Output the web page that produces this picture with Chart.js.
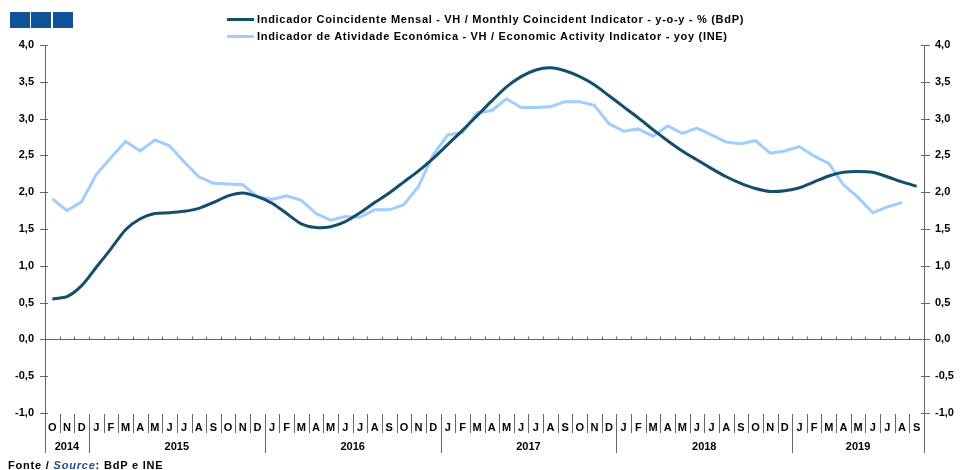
<!DOCTYPE html>
<html>
<head>
<meta charset="utf-8">
<script src="https://cdn.jsdelivr.net/npm/chart.js@4/dist/chart.umd.min.js"></script>
<style>
  body { margin: 0; background: #fff; font-family: "Liberation Sans", Arial, sans-serif; }
  #wrap { position: relative; width: 961px; height: 470px; overflow: hidden; }
  canvas { position: absolute; left: 0; top: 0; }
  .sq { position: absolute; top: 12px; width: 20px; height: 16px; background: #0f5499; }
  .leg { position: absolute; left: 227px; font-size: 11px; font-weight: bold; color: #000; white-space: nowrap; letter-spacing: 0.7px; }
  .leg i { display: inline-block; width: 27px; height: 3px; vertical-align: middle; margin-right: 3px; position: relative; top: -1px; }
  #src { position: absolute; left: 8px; top: 459px; font-size: 11px; font-weight: bold; color: #000; letter-spacing: 0.8px; }
  #src span { color: #1f4e8c; font-style: italic; }
</style>
</head>
<body>
<div id="wrap">
  <canvas id="chart" width="961" height="470"></canvas>
  <div class="sq" style="left:10px"></div>
  <div class="sq" style="left:31px"></div>
  <div class="sq" style="left:53px"></div>
  <div id="legend"></div>
  <div id="src">Fonte / <span>Source</span>: BdP e INE</div>
</div>
<script>
// --- DATA ---
const months = [
    'O','N','D',
    'J','F','M','A','M','J','J','A','S','O','N','D',
    'J','F','M','A','M','J','J','A','S','O','N','D',
    'J','F','M','A','M','J','J','A','S','O','N','D',
    'J','F','M','A','M','J','J','A','S','O','N','D',
    'J','F','M','A','M','J','J','A','S'
];
const years = ['2014', '2015', '2016', '2017', '2018', '2019'];
const monthsPerYear = [3, 12, 12, 12, 12, 9];

const coincident = [
    0.55, 0.58, 0.73,
    0.98, 1.23, 1.49, 1.64, 1.71, 1.72, 1.74, 1.78, 1.86, 1.95, 1.99, 1.94,
    1.85, 1.71, 1.57, 1.52, 1.53, 1.60, 1.72, 1.86, 1.99, 2.14, 2.29, 2.46,
    2.65, 2.84, 3.04, 3.24, 3.43, 3.57, 3.66, 3.69, 3.65, 3.57, 3.46, 3.31,
    3.16, 3.01, 2.85, 2.70, 2.56, 2.44, 2.32, 2.21, 2.12, 2.05, 2.01, 2.02,
    2.06, 2.14, 2.22, 2.27, 2.28, 2.27, 2.21, 2.14, 2.08
];
const activity = [
    1.91, 1.75, 1.87,
    2.24, 2.47, 2.69, 2.56, 2.71, 2.63, 2.41, 2.21, 2.12, 2.11, 2.10, 1.94,
    1.90, 1.95, 1.89, 1.71, 1.62, 1.67, 1.66, 1.76, 1.76, 1.83, 2.08, 2.51,
    2.78, 2.81, 3.08, 3.11, 3.27, 3.15, 3.15, 3.16, 3.23, 3.23, 3.18, 2.93,
    2.83, 2.86, 2.76, 2.90, 2.80, 2.87, 2.78, 2.68, 2.66, 2.70, 2.53, 2.56,
    2.62, 2.49, 2.39, 2.10, 1.93, 1.72, 1.80, 1.86, null
];

const seriesNames = [
    'Indicador Coincidente Mensal - VH / Monthly Coincident Indicator - y-o-y - % (BdP)',
    'Indicador de Atividade Económica - VH / Economic Activity Indicator - yoy (INE)'
];
const seriesColors = ['#134f6a', '#9fcdfc'];

const yMin = -1, yMax = 4, yStep = 0.5;

// --- LEGEND ---
document.getElementById('legend').innerHTML = seriesNames.map((n, i) => `
    <div class="leg" style="top:${13 + i * 17}px"><i style="background:${seriesColors[i]}"></i>${n}</div>
`).join('');

// --- AXIS DECORATION (crossing ticks, zero line, month/year separators) ---
const axisDeco = {
    id: 'axisDeco',
    afterDatasetsDraw(chart) {
        const { ctx, chartArea: a, scales: { x, y } } = chart;
        const px = v => Math.round(v) + 0.5;
        const line = (x1, y1, x2, y2) => { ctx.beginPath(); ctx.moveTo(x1, y1); ctx.lineTo(x2, y2); ctx.stroke(); };
        const half = (x.getPixelForValue(1) - x.getPixelForValue(0)) / 2;
        const bound = i => px(x.getPixelForValue(i) - half);
        const lowEnd = 453;

        ctx.save();
        ctx.strokeStyle = '#666';
        ctx.lineWidth = 1;

        // y axis lines
        line(px(a.left), a.top, px(a.left), lowEnd);
        line(px(a.right), a.top, px(a.right), lowEnd);

        // y ticks
        for (let v = yMin; v <= yMax + 1e-9; v += yStep) {
            const py = px(y.getPixelForValue(v));
            line(a.left - 5, py, a.left + 3, py);
            line(a.right - 3, py, a.right + 6, py);
        }

        // zero line and its small ticks
        const y0 = px(y.getPixelForValue(0));
        line(a.left, y0, a.right, y0);
        for (let i = 1; i < months.length; i++) line(bound(i), y0 - 3, bound(i), y0);

        // month and year separators
        let idx = 0;
        const yearStarts = monthsPerYear.map(n => { const s = idx; idx += n; return s; });
        for (let i = 1; i < months.length; i++) {
            const isYear = yearStarts.includes(i);
            line(bound(i), a.bottom + 1, bound(i), isYear ? lowEnd : 433);
        }

        // year labels
        ctx.fillStyle = '#000';
        ctx.font = 'bold 11px "Liberation Sans", Arial, sans-serif';
        ctx.textAlign = 'center';
        ctx.textBaseline = 'middle';
        years.forEach((yr, k) => {
            const s = yearStarts[k], e = s + monthsPerYear[k] - 1;
            const cx = (x.getPixelForValue(s) + x.getPixelForValue(e)) / 2;
            ctx.fillText(yr, cx, 447);
        });
        ctx.restore();
    }
};

// --- CHART ---
const tickFont = { family: '"Liberation Sans", Arial, sans-serif', size: 11, weight: 'bold' };
const fmt = v => Number(v).toFixed(1).replace('.', ',');

new Chart(document.getElementById('chart'), {
    type: 'line',
    data: {
        labels: months,
        datasets: [
            { label: seriesNames[0], data: coincident, borderColor: seriesColors[0], borderWidth: 3, tension: 0.25, pointRadius: 0 },
            { label: seriesNames[1], data: activity, borderColor: seriesColors[1], borderWidth: 3, tension: 0, pointRadius: 0 }
        ]
    },
    options: {
        responsive: false,
        animation: false,
        devicePixelRatio: 1,
        layout: { padding: { top: 45, left: 0, right: 0, bottom: 0 } },
        plugins: { legend: { display: false }, tooltip: { enabled: false } },
        scales: {
            x: {
                offset: true,
                grid: { display: false },
                border: { display: false },
                ticks: { color: '#000', font: tickFont, padding: 0, maxRotation: 0, autoSkip: false },
                afterFit: s => { s.height = 57; }
            },
            y: {
                position: 'left',
                min: yMin, max: yMax,
                grid: { display: false },
                border: { display: false },
                ticks: { stepSize: yStep, color: '#000', font: tickFont, padding: 3, callback: fmt },
                afterFit: s => { s.width = 45; }
            },
            y2: {
                position: 'right',
                min: yMin, max: yMax,
                grid: { display: false },
                border: { display: false },
                ticks: { stepSize: yStep, color: '#000', font: tickFont, padding: 3, callback: fmt },
                afterFit: s => { s.width = 37; }
            }
        }
    },
    plugins: [axisDeco]
});
</script>
</body>
</html>
